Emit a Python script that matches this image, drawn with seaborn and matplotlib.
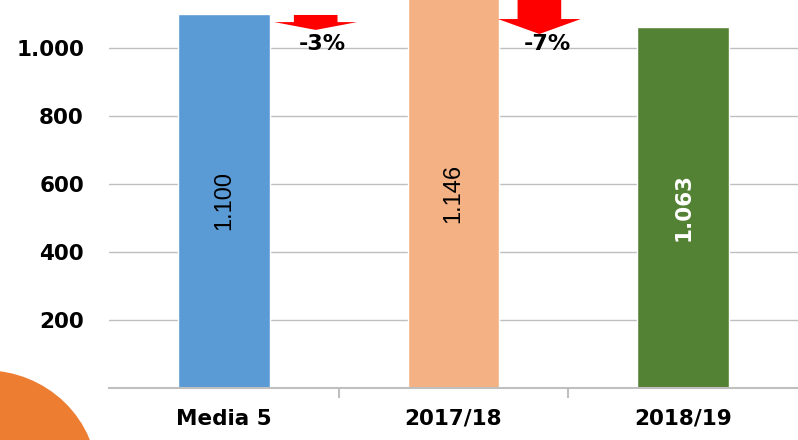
import numpy as np
import matplotlib
matplotlib.use('Agg')
import matplotlib.pyplot as plt
import pandas as pd
import seaborn as sns
from matplotlib.patches import Ellipse, Polygon
from matplotlib.ticker import FuncFormatter

categories = ['Media 5', '2017/18', '2018/19']
values = [1100, 1146, 1063]
bar_labels = ['1.100', '1.146', '1.063']
bar_colors = ['#5B9BD5', '#F4B183', '#548235']
changes = ['-3%', '-7%']
yticks = [200, 400, 600, 800, 1000]

sns.set_style('white')
plt.rcParams['font.family'] = ['DejaVu Sans']
plt.rcParams['text.color'] = 'black'
plt.rcParams['xtick.color'] = 'black'
plt.rcParams['ytick.color'] = 'black'

df = pd.DataFrame({'cat': categories, 'val': values})

fig = plt.figure(figsize=(7.98, 4.4), dpi=100)
ax = fig.add_axes([109 / 798, 52 / 440, 689 / 798, 388 / 440])

sns.barplot(data=df, x='cat', y='val', hue='cat', palette=bar_colors,
            width=0.4, legend=False, ax=ax, saturation=1)

ax.set_xlim(-0.5, 2.5)
ax.set_ylim(0, 1141)
ax.set_yticks(yticks)
ax.yaxis.set_major_formatter(FuncFormatter(lambda v, p: f'{int(v):,}'.replace(',', '.')))
ax.grid(axis='y', color='#BFBFBF', lw=1)
ax.set_axisbelow(True)
ax.set_xlabel('')
ax.set_ylabel('')
for s in ['top', 'right', 'left']:
    ax.spines[s].set_visible(False)
ax.spines['bottom'].set_color('#BFBFBF')
ax.spines['bottom'].set_linewidth(1.5)

ax.set_xticks([0, 1, 2])
ax.set_xticklabels(categories, fontsize=15.5, fontweight='bold', color='black')
ax.tick_params(axis='x', length=0, pad=15)
ax.tick_params(axis='y', length=0, pad=18, labelsize=15.5, labelcolor='black')
for t in ax.get_yticklabels():
    t.set_fontweight('bold')
# small separators between categories
ax.set_xticks([0.5, 1.5], minor=True)
ax.tick_params(axis='x', which='minor', bottom=True, length=7, color='#BFBFBF', width=1.5)

for i, (v, lab) in enumerate(zip(values, bar_labels)):
    last = i == len(values) - 1
    ax.text(i, v / 2, lab, rotation=90, ha='center', va='center',
            fontsize=15.5 if last else 17, color='white' if last else 'black',
            fontweight='bold' if last else 'normal',
            family='DejaVu Sans' if last else 'Liberation Sans')

# red arrows: (center x, shaft top, shaft bottom, apex)
arrows = [(0.40, 1097, 1076, 1053), (1.374, 1180, 1085, 1041)]
text_x = [0.43, 1.41]
for (cx, top, sb, apex), tx, ch in zip(arrows, text_x, changes):
    poly = Polygon([(cx - 0.095, top), (cx + 0.095, top), (cx + 0.095, sb),
                    (cx + 0.18, sb), (cx, apex), (cx - 0.18, sb), (cx - 0.095, sb)],
                   closed=True, color='#FF0000', lw=0)
    ax.add_patch(poly)
    ax.text(tx, 1012, ch, ha='center', va='center', fontsize=16, fontweight='bold',
            color='black')

fig.add_artist(Ellipse((-15 / 798, -40 / 440), 224 / 798, 218 / 440,
                       transform=fig.transFigure, color='#ED7D31', clip_on=False))

fig.savefig('out.png', dpi=100)
